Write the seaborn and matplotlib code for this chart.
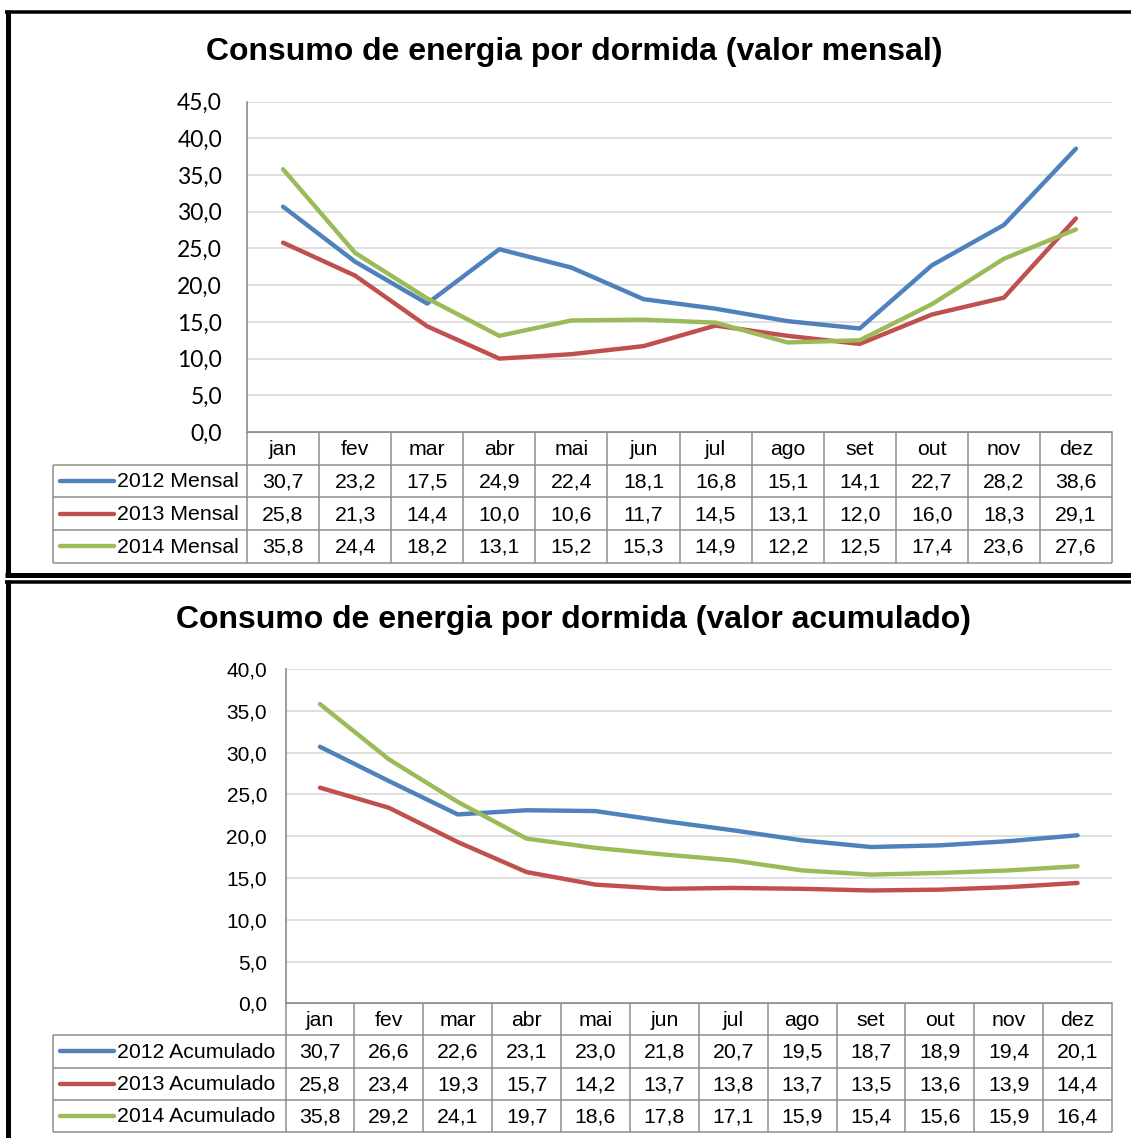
import numpy as np
import pandas as pd
import matplotlib
matplotlib.use("Agg")
import matplotlib.pyplot as plt
import seaborn as sns

# Monthly energy consumption per overnight stay
months = ['jan', 'fev', 'mar', 'abr', 'mai', 'jun', 'jul', 'ago', 'set', 'out', 'nov', 'dez']
years = ['2012', '2013', '2014']

mensal_2012 = [30.7, 23.2, 17.5, 24.9, 22.4, 18.1, 16.8, 15.1, 14.1, 22.7, 28.2, 38.6]
mensal_2013 = [25.8, 21.3, 14.4, 10.0, 10.6, 11.7, 14.5, 13.1, 12.0, 16.0, 18.3, 29.1]
mensal_2014 = [35.8, 24.4, 18.2, 13.1, 15.2, 15.3, 14.9, 12.2, 12.5, 17.4, 23.6, 27.6]

acumulado_2012 = [30.7, 26.6, 22.6, 23.1, 23.0, 21.8, 20.7, 19.5, 18.7, 18.9, 19.4, 20.1]
acumulado_2013 = [25.8, 23.4, 19.3, 15.7, 14.2, 13.7, 13.8, 13.7, 13.5, 13.6, 13.9, 14.4]
acumulado_2014 = [35.8, 29.2, 24.1, 19.7, 18.6, 17.8, 17.1, 15.9, 15.4, 15.6, 15.9, 16.4]

titulo_mensal = 'Consumo de energia por dormida (valor mensal)'
titulo_acumulado = 'Consumo de energia por dormida (valor acumulado)'

sns.set_theme(style="white")
plt.rcParams['font.family'] = ['Liberation Sans', 'DejaVu Sans']

W, H = 1131, 1138
PX = 72 / 100  # points per pixel at 100 dpi

COLORS = ['#4F81BD', '#C0504D', '#9BBB59']
GRID = '#D9D9D9'
TABLE = '#8C8C8C'
AXIS = '#868686'

fig = plt.figure(figsize=(W / 100, H / 100), dpi=100)
fig.patch.set_facecolor('white')

# full-figure canvas in pixel units for the data tables and frames
canvas = fig.add_axes([0, 0, 1, 1], zorder=0)
canvas.set_xlim(0, W)
canvas.set_ylim(H, 0)
canvas.axis('off')


def fmt(v):
    return f"{v:.1f}".replace('.', ',')


def hline(y, x0, x1, color=TABLE, lw=1.5):
    canvas.plot([x0, x1], [y, y], color=color, lw=lw * PX, clip_on=False,
                solid_capstyle='butt')


def vline(x, y0, y1, color=TABLE, lw=1.5):
    canvas.plot([x, x], [y0, y1], color=color, lw=lw * PX, clip_on=False,
                solid_capstyle='butt')


def panel(title, title_y, series, suffix, ymax, box, table_bottom, legend_left,
          label_right, tick_font, tick_size):
    left, top, right, bottom = box
    ax = fig.add_axes([left / W, 1 - bottom / H, (right - left) / W, (bottom - top) / H],
                      zorder=2)
    labels = [f'{yr} {suffix}' for yr in years]
    rows = []
    for lab, vals in zip(labels, series):
        for i, (m, v) in enumerate(zip(months, vals)):
            rows.append({'pos': i, 'mes': m, 'valor': v, 'serie': lab})
    df = pd.DataFrame(rows)
    sns.lineplot(data=df, x='pos', y='valor', hue='serie', hue_order=labels,
                 palette=COLORS, linewidth=4.4 * PX, legend=False, ax=ax,
                 errorbar=None, sort=False, solid_capstyle='round')
    ax.set_xlim(-0.5, len(months) - 0.5)
    ax.set_ylim(0, ymax)
    ticks = np.arange(0, ymax + 0.01, 5)
    ax.set_yticks(ticks)
    ax.set_yticklabels([fmt(t) for t in ticks], fontfamily=tick_font,
                       fontsize=tick_size, color='black')
    ax.set_xticks([])
    ax.set_xlabel('')
    ax.set_ylabel('')
    ax.grid(axis='y', color=GRID, lw=1.6 * PX)
    ax.set_axisbelow(True)
    ax.patch.set_alpha(0)
    for s in ('top', 'right'):
        ax.spines[s].set_visible(False)
    ax.spines['left'].set_color(AXIS)
    ax.spines['left'].set_linewidth(1.6 * PX)
    ax.spines['bottom'].set_color(TABLE)
    ax.spines['bottom'].set_linewidth(1.5 * PX)
    ax.tick_params(axis='y', length=0, pad=(left - label_right) * PX)

    fig.text(574 / W, 1 - title_y / H, title, ha='center', va='center',
             fontsize=23, fontweight='bold', color='black')

    # data table under the plot
    n = len(months)
    cw = (right - left) / n
    rh = (table_bottom - bottom) / 4
    for k in range(n + 1):
        vline(left + k * cw, bottom, table_bottom)
    vline(legend_left, bottom + rh, table_bottom)
    hline(bottom, left, right)
    for j in range(1, 5):
        hline(bottom + j * rh, legend_left, right)
    for i, m in enumerate(months):
        canvas.text(left + (i + 0.5) * cw, bottom + rh / 2 + 1, m, ha='center',
                    va='center', fontsize=15.3, color='black')
    for r, (lab, vals, col) in enumerate(zip(labels, series, COLORS)):
        yc = bottom + (r + 1.5) * rh
        canvas.plot([legend_left + 7, legend_left + 61], [yc, yc], color=col,
                    lw=4.4 * PX, solid_capstyle='round', clip_on=False)
        canvas.text(legend_left + 64, yc + 1, lab, ha='left', va='center',
                    fontsize=15.3, color='black')
        for i, v in enumerate(vals):
            canvas.text(left + (i + 0.5) * cw, yc + 1, fmt(v), ha='center',
                        va='center', fontsize=15.3, color='black')
    return ax


panel(titulo_mensal, 52, [mensal_2012, mensal_2013, mensal_2014], 'Mensal', 45,
      (247, 101.7, 1112, 432), 562.5, 53.3, 222, 'Lato', 16.5)

panel(titulo_acumulado, 620, [acumulado_2012, acumulado_2013, acumulado_2014],
      'Acumulado', 40, (285.5, 669, 1112, 1003.3), 1131.7, 53.3, 267,
      'Liberation Sans', 15)

# chart frames
hline(11.5, 5, W + 10, color='black', lw=3.5)
vline(7.5, 10, 577, color='black', lw=5)
hline(574.5, 5, W + 10, color='black', lw=5)
hline(582, 5, W + 10, color='black', lw=3.5)
vline(7.5, 580, H + 10, color='black', lw=5)

fig.savefig('out.png', dpi=100, facecolor='white')
